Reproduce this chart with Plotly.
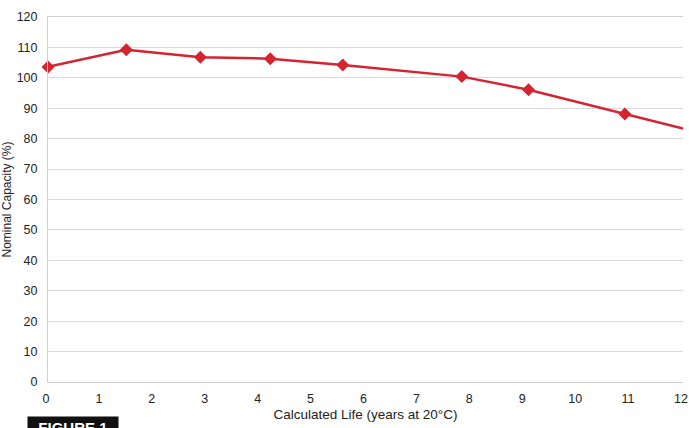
import plotly.graph_objects as go

years = [0, 1.48, 2.88, 4.2, 5.57, 7.82, 9.08, 10.9, 12.0]
capacity = [103.6, 109.2, 106.8, 106.3, 104.2, 100.4, 96.1, 88.1, 83.3]
marker_mask = [True, True, True, True, True, True, True, True, False]

mx = [x for x, m in zip(years, marker_mask) if m]
my = [y for y, m in zip(capacity, marker_mask) if m]

fig = go.Figure()
fig.add_trace(go.Scatter(x=years, y=capacity, mode="lines",
                         line=dict(color="#d52430", width=2.5),
                         hoverinfo="skip", showlegend=False, cliponaxis=False))
fig.add_trace(go.Scatter(x=mx, y=my, mode="markers",
                         marker=dict(symbol="diamond", size=10, color="#d52430"),
                         showlegend=False, cliponaxis=False))

fig.update_layout(
    width=689, height=428,
    margin=dict(l=48, r=6, t=17, b=46, autoexpand=False),
    paper_bgcolor="white", plot_bgcolor="white",
    font=dict(family="Liberation Sans, Arial, sans-serif", size=12, color="#222"),
    xaxis=dict(range=[0, 12], tickmode="array", tickvals=list(range(13)),
               showgrid=False, zeroline=False, showline=True, linecolor="#d0d0d0",
               mirror=True, ticks="", tickfont=dict(size=12.5), automargin=False,
               ticklabeloverflow="allow", ticklabelstandoff=5, ticklabelshift=-2,
               title=dict(text="Calculated Life (years at 20°C)", font=dict(size=13.5), standoff=4)),
    yaxis=dict(range=[0, 120], tickmode="array", tickvals=list(range(0, 121, 10)),
               showgrid=True, gridcolor="#d9d9d9", gridwidth=1, zeroline=False,
               showline=True, linecolor="#d0d0d0", ticks="", tickfont=dict(size=12.5),
               automargin=False, ticklabeloverflow="allow", ticklabelstandoff=7,
               title=dict(text="Nominal Capacity (%)", font=dict(size=12), standoff=12)),
    annotations=[dict(text="&nbsp;&nbsp;<b>FIGURE 1</b>&nbsp;&nbsp;", xref="paper", yref="paper",
                      x=-0.033, y=-0.093, xanchor="left", yanchor="top",
                      showarrow=False, bgcolor="#111", font=dict(color="white", size=15),
                      borderpad=2)],
)

# remove the default page margin so the figure fills the 689x428 window exactly
fig.write_html("out.html", config={"displayModeBar": False},
               post_script="document.body.style.margin='0';document.body.style.overflow='hidden';")
